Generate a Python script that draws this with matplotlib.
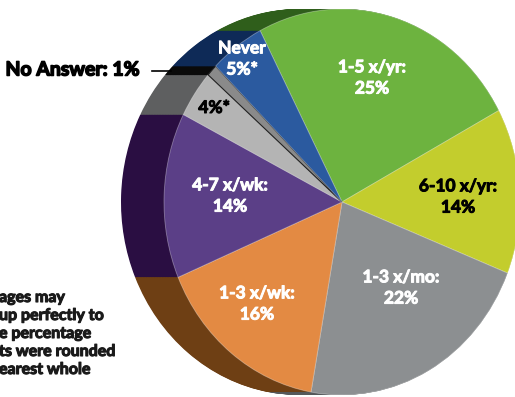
import matplotlib
matplotlib.use("Agg")
import matplotlib.pyplot as plt
import matplotlib.patheffects as pe
import numpy as np

# ---- data ----
categories = ["1-5 x/yr", "6-10 x/yr", "1-3 x/mo", "1-3 x/wk", "4-7 x/wk", "4%", "No Answer", "Never"]
values = [25, 14, 22, 16, 14, 4, 1, 5]
label_texts = ["1-5 x/yr:\n25%", "6-10 x/yr:\n14%", "1-3 x/mo:\n22%", "1-3 x/wk:\n16%",
               "4-7 x/wk:\n14%", "4%*", "", "Never\n5%*"]
front_colors = ["#6db33f", "#c3cd2d", "#8c8f91", "#e38a43", "#5b3f87", "#b4b4b4", "#8a8a8a", "#2b5a9f"]
side_colors = ["#2f5e1b", "#8f961f", "#55585a", "#6e3f14", "#2a0e42", "#5e5f60", "#0a0a0a", "#0e2a57"]
label_colors = ["white", "black", "white", "white", "white", "black", "white", "white"]
footnote_lines = ["ages may", "up perfectly to", "e percentage", "ts were rounded", "earest whole"]

W, H = 515, 397
CX, CY = 342, 202      # pie centre in pixels
RX, RY = 178, 193      # pixel radii
DEPTH = 43             # extrusion to the left, pixels
START = 117.4

fig = plt.figure(figsize=(W / 100, H / 100), dpi=100)
ax = fig.add_axes([0, 0, 1, 1])

# extruded side: stacked copies from back to front
offsets = np.linspace(-DEPTH / RX, 0, 60)
for dx in offsets:
    ax.pie(values, colors=side_colors, startangle=START, counterclock=False,
           center=(dx, 0), radius=1, wedgeprops=dict(linewidth=0))

wedges, _ = ax.pie(values, colors=front_colors, startangle=START, counterclock=False,
                   center=(0, 0), radius=1,
                   wedgeprops=dict(linewidth=0.6, edgecolor=(1, 1, 1, 0.35)))
wedges[6].set_edgecolor("#222222")
wedges[6].set_linewidth(0.8)

ax.set_aspect("auto")
ax.set_xlim(-CX / RX, (W - CX) / RX)
ax.set_ylim(-(H - CY) / RY, CY / RY)
ax.axis("off")

FONT = "Lato"

def ftext(x, y, s, stroke=0.6, **kw):
    col = kw.get("color", "black")
    fig.text(x / W, 1 - y / H, s, family=FONT, fontweight="bold",
             path_effects=[pe.withStroke(linewidth=stroke, foreground=col)], **kw)

# slice labels (pixel positions)
label_pos = [(372, 78), (458, 197), (401, 288), (257, 304), (230, 196), (214, 108), None, (242, 59)]
for txt, pos, col in zip(label_texts, label_pos, label_colors):
    if pos is None or not txt:
        continue
    ftext(pos[0], pos[1], txt, stroke=0.7, color=col, fontsize=12.5, ha="center", va="center",
          linespacing=1.4)

# No Answer callout
ftext(140, 70, "No Answer: 1%", stroke=1.1, color="black", fontsize=14, ha="right", va="center")
fig.add_artist(plt.Line2D([152 / W, 171 / W], [1 - 71 / H, 1 - 71 / H],
                          color="black", linewidth=1.2))

# footnote (cut off at the left edge)
for i, line in enumerate(footnote_lines):
    ftext(-1, 298 + i * 18, line, stroke=0.8, color="#1a1a1a", fontsize=11.5, ha="left", va="center")

fig.savefig("out.png", dpi=100)
